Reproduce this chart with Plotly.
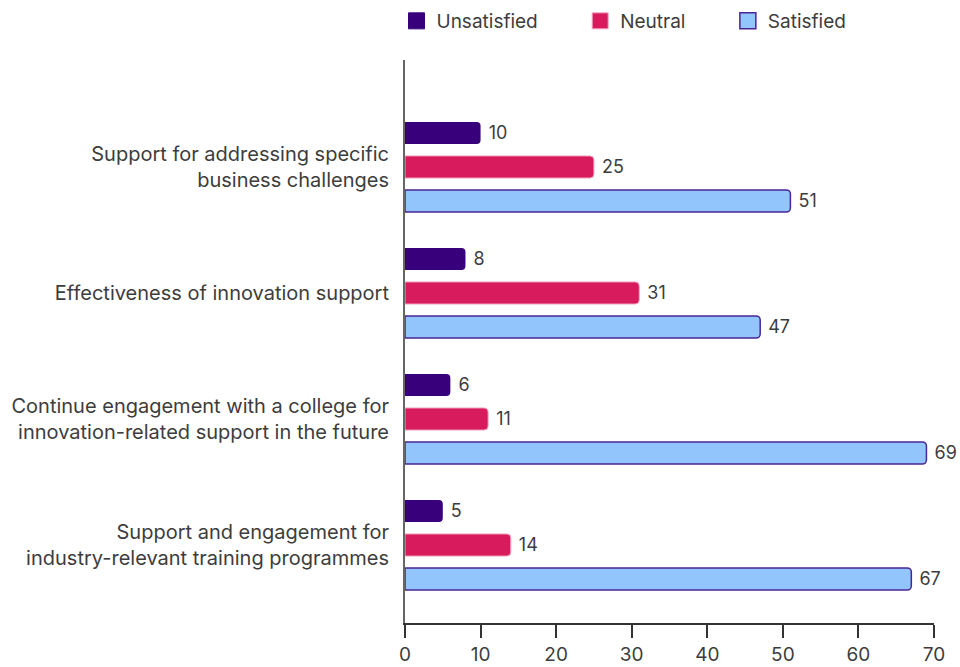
import plotly.graph_objects as go

# Survey items (top to bottom) and satisfaction shares (%)
categories = [
    "Support for addressing specific<br>business challenges",
    "Effectiveness of innovation support",
    "Continue engagement with a college for<br>innovation-related support in the future",
    "Support and engagement for<br>industry-relevant training programmes",
]
unsatisfied = [10, 8, 6, 5]
neutral = [25, 31, 11, 14]
satisfied = [51, 47, 69, 67]
x_ticks = [0, 10, 20, 30, 40, 50, 60, 70]

FONT = "Inter, Roboto, Arial, sans-serif"
TEXT = "#3d3d3d"
NBSP = "\u00a0"

series = [
    ("Unsatisfied", unsatisfied, "#38007a", "#38007a", 0),
    ("Neutral", neutral, "#d81b5c", "#f2a9c2", 1),
    ("Satisfied", satisfied, "#93c5fd", "#4a2596", 1.5),
]

L, R = 405, 26
W, H = 960, 667

fig = go.Figure()
for name, vals, fill, edge, lw in series:
    fig.add_trace(go.Bar(
        name=name,
        y=categories,
        x=vals,
        orientation="h",
        marker=dict(color=fill, line=dict(color=edge, width=lw)),
        texttemplate=NBSP + "%{x}",
        textposition="outside",
        textfont=dict(family=FONT, size=19.5, color=TEXT),
        cliponaxis=False,
        showlegend=False,
        hoverinfo="skip",
    ))
    # legend swatch (trailing spaces widen the gap between entries)
    fig.add_trace(go.Scatter(
        name=name + NBSP * 7,
        x=[None], y=[None],
        mode="markers",
        marker=dict(symbol="square", size=22, color=fill,
                    line=dict(color=edge if lw else fill, width=max(lw, 1))),
        showlegend=True,
    ))

fig.update_layout(
    width=W, height=H,
    margin=dict(l=L, r=R, t=60, b=44, autoexpand=False),
    paper_bgcolor="white", plot_bgcolor="white",
    barmode="group", bargap=0.19, bargroupgap=0.35,
    barcornerradius=4,
    font=dict(family=FONT, size=19.5, color=TEXT),
    legend=dict(
        orientation="h",
        xref="container", x=(L - 8.5) / W, xanchor="left",
        yref="container", y=1 - 21 / H, yanchor="middle",
        font=dict(family=FONT, size=19, color=TEXT),
        itemsizing="trace",
        traceorder="normal",
    ),
    xaxis=dict(
        range=[0, 70], tickvals=x_ticks,
        showgrid=False, zeroline=False,
        showline=True, linecolor="#333333", linewidth=1.5,
        ticks="outside", ticklen=13, tickcolor="#333333", tickwidth=1.5,
        tickfont=dict(family=FONT, size=19, color=TEXT),
        ticklabelstandoff=0,
        automargin=False,
    ),
    yaxis=dict(
        type="category", categoryorder="array", categoryarray=categories,
        range=[3.619, -0.849],
        showgrid=False, zeroline=False,
        showline=True, linecolor="#666666", linewidth=2,
        ticks="", ticklabelstandoff=10,
        tickfont=dict(family=FONT, size=20, color=TEXT),
        automargin=False,
    ),
)

fig.write_html("out.html")
